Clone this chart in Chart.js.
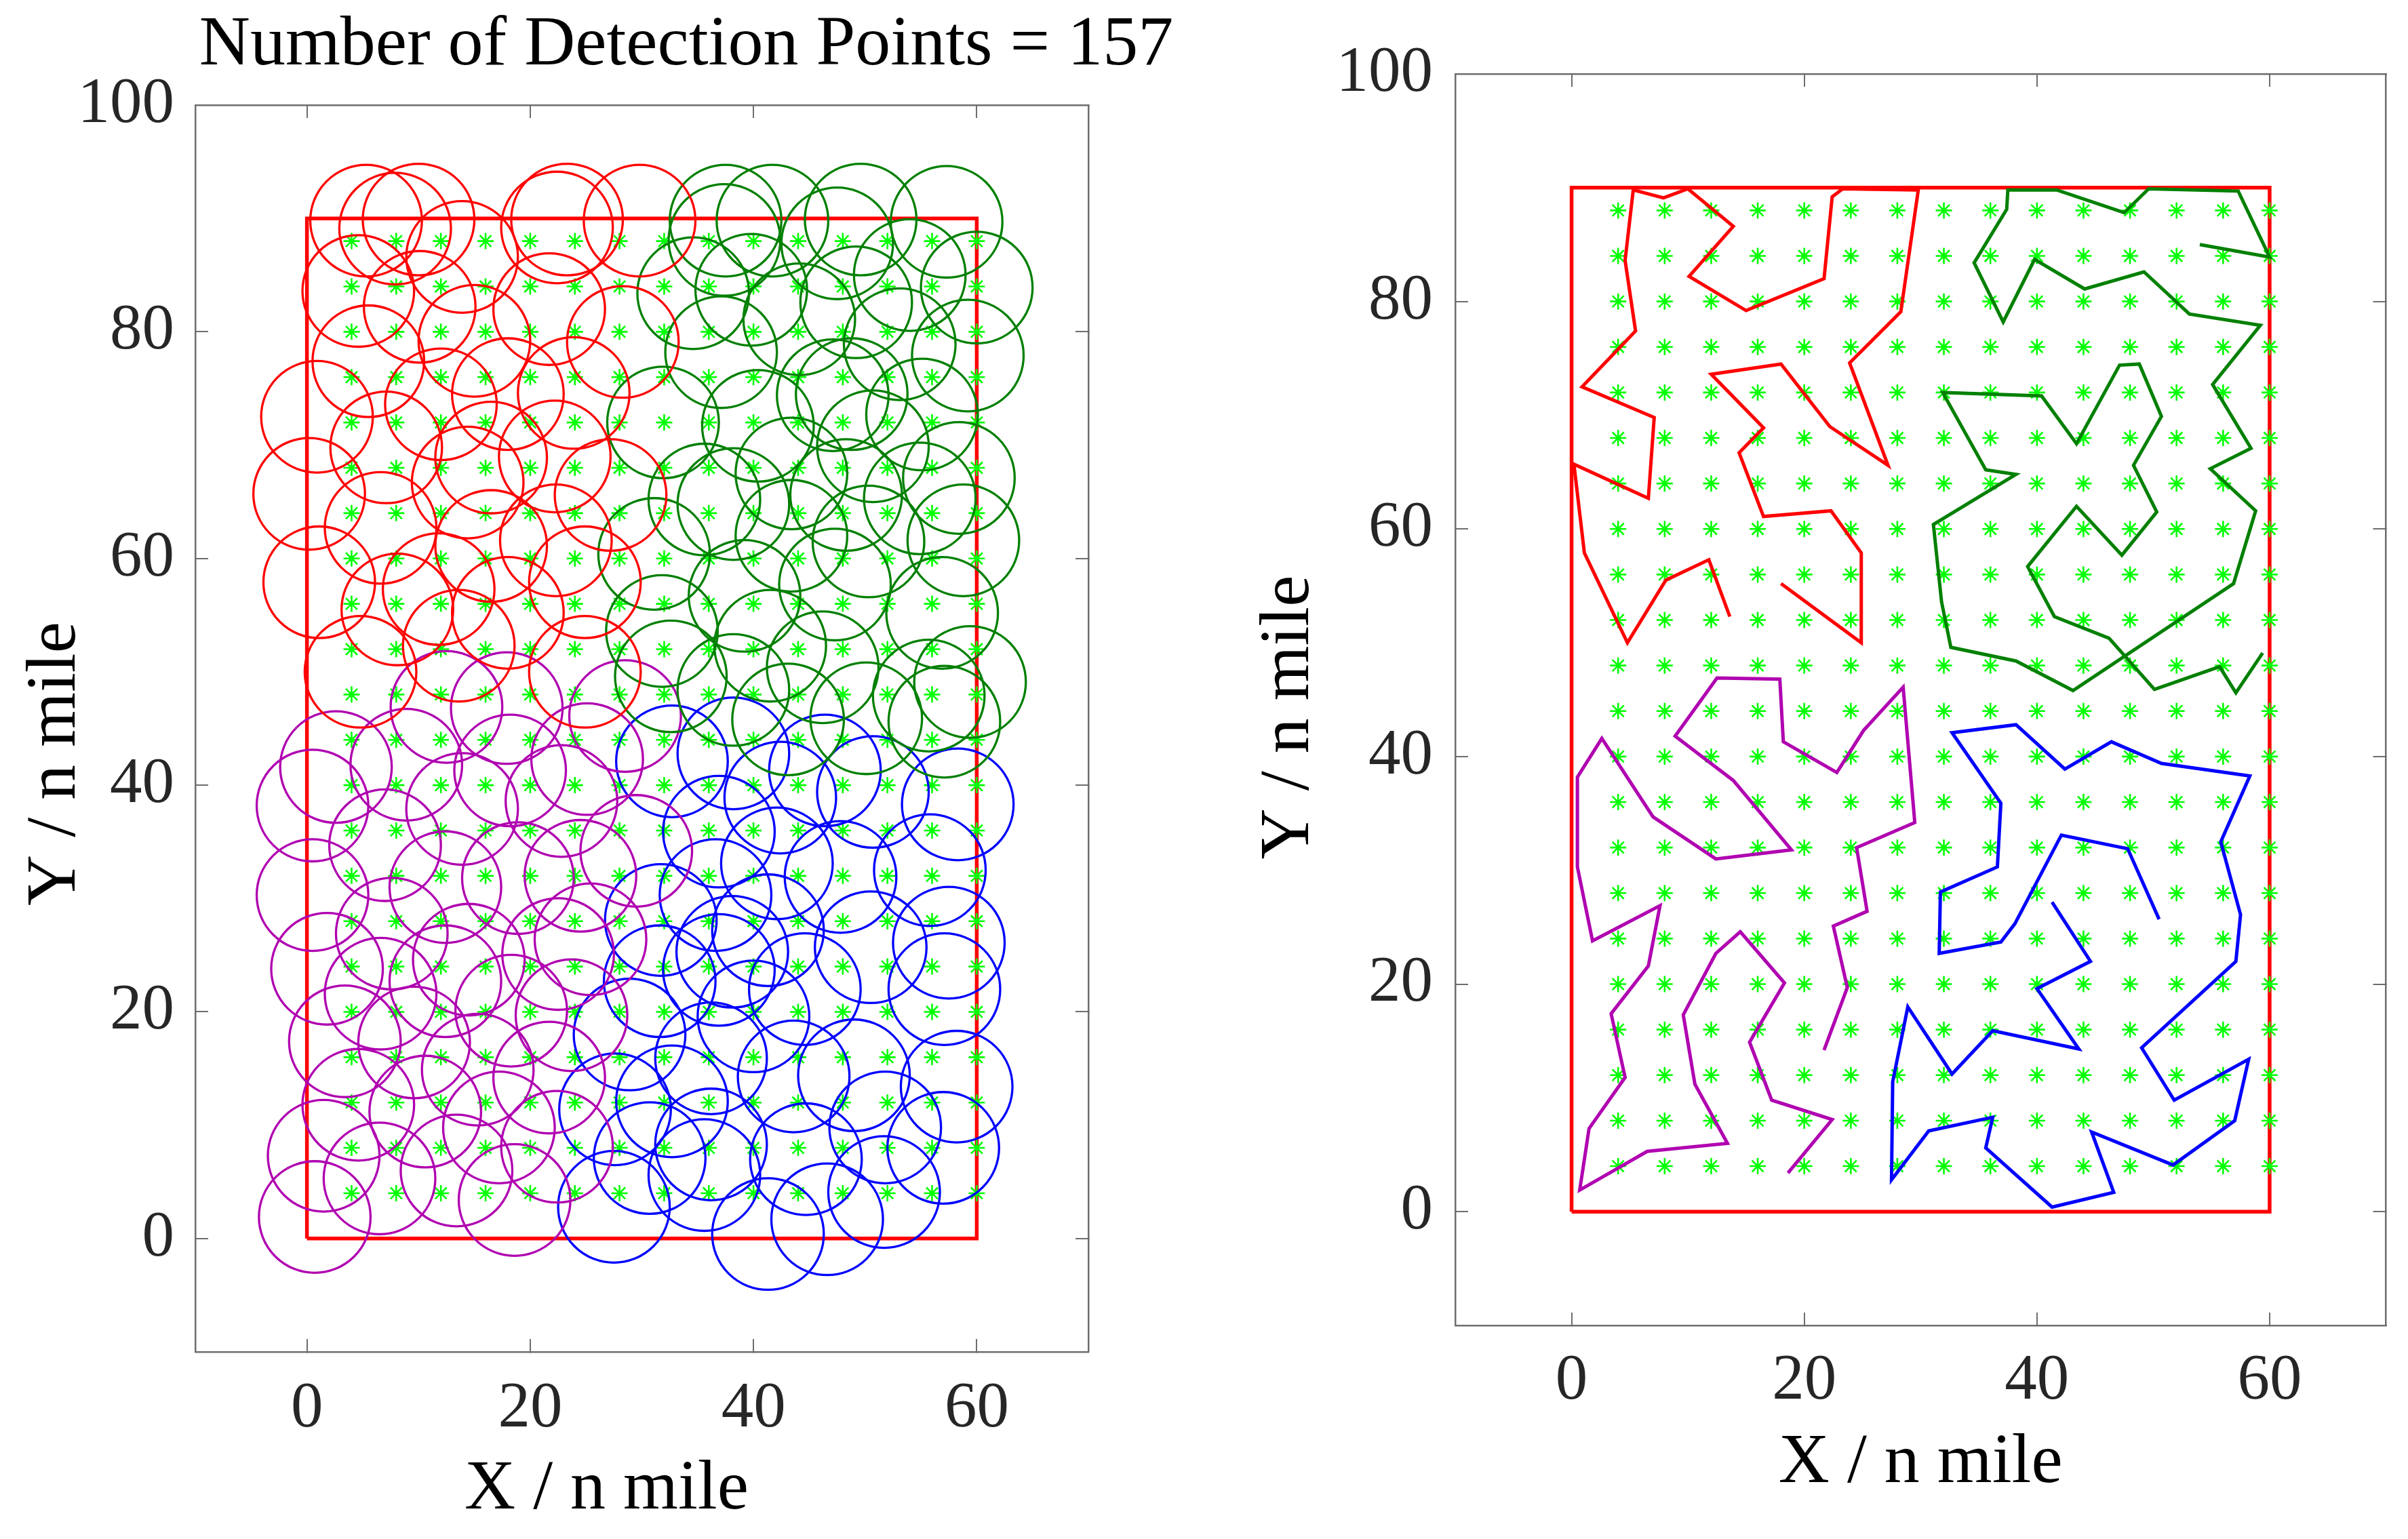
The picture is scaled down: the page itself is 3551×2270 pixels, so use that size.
<!DOCTYPE html>
<html>
<head>
<meta charset="utf-8">
<title>Detection points and search routes</title>
<script src="https://cdn.jsdelivr.net/npm/chart.js@4.4.1/dist/chart.umd.min.js"></script>
<style>
  html, body { margin: 0; padding: 0; background: #fff; }
  body { width: 3551px; height: 2270px; position: relative; overflow: hidden; }
  canvas { position: absolute; top: 0; }
  #coverage { left: 0; }
  #routes { left: 1780px; }
</style>
</head>
<body>
<canvas id="coverage" width="2024" height="2270"></canvas>
<canvas id="routes" width="1771" height="2270"></canvas>
<script>
// ---- data (n mile) ----
// search area boundary
const boundaryX = [0, 60, 60, 0, 0];
const boundaryY = [0, 0, 90, 90, 0];

// candidate grid (green asterisks)
const gridX = [4, 8, 12, 16, 20, 24, 28, 32, 36, 40, 44, 48, 52, 56, 60];
const gridY = [4, 8, 12, 16, 20, 24, 28, 32, 36, 40, 44, 48, 52, 56, 60, 64, 68, 72, 76, 80, 84, 88];

// detection points of each group, in route order
const redX = [18.0, 24.9, 24.9, 22.3, 16.5, 14.4, 16.5, 12.0, 18.0, 22.2, 27.2, 23.9, 28.3, 29.8, 23.3, 22.4, 21.7,
  15.0, 10.1, 13.9, 10.0, 7.9, 5.3, 4.6, 5.5, 0.9, 7.1, 6.6, 0.2, 1.1, 4.8, 8.1, 11.8, 13.6];
const redY = [55.2, 50.0, 57.9, 61.6, 61.1, 66.7, 68.9, 73.6, 74.5, 69.0, 65.6, 74.6, 79.1, 89.8, 89.9, 89.2, 82.0,
  79.2, 82.2, 86.6, 89.9, 89.1, 89.8, 83.6, 77.4, 72.5, 69.8, 62.7, 65.7, 57.9, 50.0, 55.5, 57.3, 52.3];

const greenX = [54.0, 60.0, 57.3, 49.6, 47.5, 41.7, 37.5, 37.4, 34.6, 37.1, 39.8, 44.1, 49.2, 53.1, 59.2, 55.1, 58.4,
  54.9, 58.8, 56.9, 43.1, 38.2, 32.6, 31.8, 31.1, 38.2, 35.6, 31.9, 40.4, 43.4, 47.1, 48.8, 50.7, 48.3, 50.3, 47.3,
  43.4, 39.2, 41.5, 46.2, 50.1, 55.7, 57.1, 59.4];
const greenY = [85.0, 83.9, 89.7, 89.9, 87.8, 89.8, 89.8, 88.1, 83.4, 78.2, 83.7, 81.1, 82.6, 78.9, 77.9, 72.7, 67.1,
  65.3, 61.6, 55.2, 45.8, 48.4, 49.6, 53.6, 60.4, 64.8, 65.2, 72.0, 71.7, 67.5, 74.4, 74.5, 69.9, 65.6, 61.5, 57.7,
  62.0, 56.7, 52.3, 50.4, 45.9, 47.9, 45.6, 49.1];

const purpleX = [18.6, 22.4, 17.2, 15.3, 18.3, 14.5, 12.4, 9.6, 10.6, 13.4, 6.5, 0.7, 1.5, 4.6, 3.4, 6.6, 7.6, 1.8,
  0.5, 0.5, 2.6, 7.0, 12.4, 18.9, 13.9, 8.9, 12.5, 17.9, 18.2, 22.8, 25.1, 28.5, 29.5, 24.5, 25.4, 22.5, 23.7, 21.7];
const purpleY = [3.4, 8.1, 9.8, 14.9, 20.1, 24.6, 22.7, 17.3, 11.2, 6.0, 5.3, 1.9, 7.3, 11.8, 17.4, 21.6, 26.9, 23.8,
  30.3, 38.2, 41.6, 34.7, 31.0, 31.8, 37.9, 41.8, 46.9, 46.8, 41.3, 38.6, 42.3, 46.1, 34.2, 32.0, 26.4, 25.1, 19.7, 14.2];

const blueX = [50.5, 47.8, 42.1, 38.1, 36.9, 31.6, 31.7, 36.6, 36.9, 32.7, 38.2, 42.4, 46.4, 50.7, 58.3, 55.8, 57.5,
  57.1, 49.0, 51.8, 58.2, 57.0, 51.7, 44.7, 46.6, 41.3, 35.6, 36.2, 30.7, 27.5, 27.6, 28.9, 32.7, 36.2, 43.6, 40.0,
  44.6, 41.3];
const blueY = [25.7, 31.9, 33.1, 25.3, 23.7, 22.7, 28.1, 30.3, 35.9, 42.1, 42.8, 38.9, 41.3, 39.4, 38.3, 32.5, 26.1,
  22.0, 14.4, 9.8, 13.4, 8.0, 4.1, 7.0, 1.7, 0.4, 5.6, 8.3, 7.1, 2.8, 11.4, 18.0, 12.1, 15.9, 14.3, 19.6, 22.0, 27.2];

// detection radius
const RADIUS = 5;

const xRange = [-10, 70];
const yRange = [-10, 100];
const xTickValues = [0, 20, 40, 60];
const yTickValues = [0, 20, 40, 60, 80, 100];

const titleText = "Number of Detection Points = 157";
const xLabel = "X / n mile";
const yLabel = "Y / n mile";

// ---- styling ----
const FONT = "'Liberation Serif', 'Times New Roman', serif";
const AXIS_GREY = "#6e6e6e";
const TICK_TEXT = "#262626";
const groups = [
  { xs: redX, ys: redY, color: "#ff0000" },
  { xs: greenX, ys: greenY, color: "#008000" },
  { xs: purpleX, ys: purpleY, color: "#b000b0" },
  { xs: blueX, ys: blueY, color: "#0000ff" },
];

const toPoints = (xs, ys) => xs.map((x, i) => ({ x: x, y: ys[i] }));

const gridPoints = [];
for (const gx of gridX) {
  for (const gy of gridY) gridPoints.push({ x: gx, y: gy });
}

function boundarySet() {
  return {
    data: toPoints(boundaryX, boundaryY),
    showLine: true,
    borderColor: "#ff0000",
    borderWidth: 5.5,
    pointRadius: 0,
    fill: false,
    order: 5,
  };
}

function gridSet() {
  return {
    data: gridPoints,
    pointStyle: "star",
    pointRadius: 12,
    pointBorderWidth: 2.6,
    pointBorderColor: "#00ff00",
    pointBackgroundColor: "#00ff00",
    showLine: false,
    order: 4,
  };
}

const fixTicks = (values) => (s) => { s.ticks = values.map((v) => ({ value: v })); };
// trailing blanks nudge a centred axis title off the middle, as in the figure
const nudge = (text, n) => text + " ".repeat(n);

// layout numbers are the pixel boxes of the original figure
function buildScales(fit) {
  const tickFont = { family: FONT, size: 95 };
  const titleFont = { family: FONT, size: 104 };
  const grid = { drawOnChartArea: false, drawTicks: true, tickLength: -19, color: AXIS_GREY, lineWidth: 2 };
  const border = { display: true, color: AXIS_GREY, width: 2.5 };
  return {
    x: {
      type: "linear", position: "bottom", min: xRange[0], max: xRange[1],
      afterBuildTicks: fixTicks(xTickValues),
      ticks: { font: tickFont, color: TICK_TEXT, padding: fit.xTickPad, maxRotation: 0, autoSkip: false },
      grid: grid, border: border,
      title: { display: true, text: nudge(xLabel, fit.xNudge), font: titleFont, color: "#000",
               padding: { top: 0, bottom: fit.xTitlePad } },
      afterFit: (s) => { s.height = fit.bottom; },
    },
    x2: {
      type: "linear", axis: "x", position: "top", min: xRange[0], max: xRange[1],
      afterBuildTicks: fixTicks(xTickValues),
      ticks: { display: false },
      grid: grid, border: border,
      afterFit: (s) => { s.height = fit.top; },
    },
    y: {
      type: "linear", position: "left", min: yRange[0], max: yRange[1],
      afterBuildTicks: fixTicks(yTickValues),
      ticks: { font: tickFont, color: TICK_TEXT, padding: fit.yTickPad, autoSkip: false },
      grid: grid, border: border,
      title: { display: true, text: nudge(yLabel, fit.yNudge), font: titleFont, color: "#000",
               padding: { top: fit.yTitlePad, bottom: 0 } },
      afterFit: (s) => { s.width = fit.left; },
    },
    y2: {
      type: "linear", axis: "y", position: "right", min: yRange[0], max: yRange[1],
      afterBuildTicks: fixTicks(yTickValues),
      ticks: { display: false },
      grid: grid, border: border,
      afterFit: (s) => { s.width = fit.right; },
    },
  };
}

const common = {
  responsive: false,
  devicePixelRatio: 1,
  animation: false,
  events: [],
  layout: { padding: 0 },
};

function drawCharts() {
  // left: coverage circles
  const circleSets = groups.map((g) => ({
    data: toPoints(g.xs, g.ys),
    pointStyle: "circle",
    pointRadius: (ctx) => {
      const sx = ctx.chart.scales.x;
      return Math.abs(sx.getPixelForValue(RADIUS) - sx.getPixelForValue(0));
    },
    pointBorderWidth: 3.3,
    pointBorderColor: g.color,
    pointBackgroundColor: "rgba(0,0,0,0)",
    showLine: false,
    order: 1,
  }));

  new Chart(document.getElementById("coverage"), {
    type: "scatter",
    data: { datasets: [boundarySet(), gridSet()].concat(circleSets) },
    options: Object.assign({}, common, {
      plugins: {
        legend: { display: false },
        tooltip: { enabled: false },
        title: {
          display: true, text: titleText, color: "#000",
          font: { family: FONT, size: 104, weight: "normal" },
          padding: { top: 5.6, bottom: 24.6 },
        },
      },
      scales: buildScales({
        left: 288, right: 419, top: 0, bottom: 276,
        xTickPad: 47, yTickPad: 50, xTitlePad: 9.6, yTitlePad: 20.6,
        xNudge: 4, yNudge: 4,
      }),
    }),
  });

  // right: search routes
  const routeSets = groups.map((g) => ({
    data: toPoints(g.xs, g.ys),
    showLine: true,
    borderColor: g.color,
    borderWidth: 5,
    pointRadius: 0,
    fill: false,
    order: 1,
  }));

  new Chart(document.getElementById("routes"), {
    type: "scatter",
    data: { datasets: [boundarySet(), gridSet()].concat(routeSets) },
    options: Object.assign({}, common, {
      plugins: {
        legend: { display: false },
        tooltip: { enabled: false },
        title: { display: false },
      },
      scales: buildScales({
        left: 366, right: 32.5, top: 108.5, bottom: 315,
        xTickPad: 45, yTickPad: 52, xTitlePad: 48.6, yTitlePad: 59.6,
        xNudge: 0, yNudge: 2,
      }),
    }),
  });
}

document.fonts.load("95px 'Liberation Serif'").then(drawCharts, drawCharts);
</script>
</body>
</html>
